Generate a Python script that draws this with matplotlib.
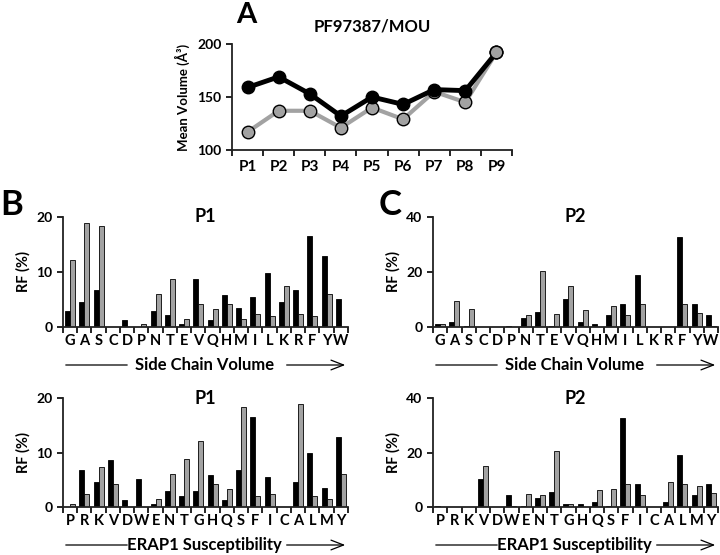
import numpy as np
import matplotlib
matplotlib.use("Agg")
import matplotlib.pyplot as plt
from matplotlib.ticker import FixedLocator

plt.rcParams['font.family'] = ['Lato', 'DejaVu Sans']
plt.rcParams['font.weight'] = 'bold'
plt.rcParams['axes.titleweight'] = 'bold'
plt.rcParams['axes.labelweight'] = 'bold'

# Panel A: mean side chain volume per pocket
positions = ['P1', 'P2', 'P3', 'P4', 'P5', 'P6', 'P7', 'P8', 'P9']
vol_black = [159, 169, 153, 132, 150, 143, 157, 156, 192]
vol_gray = [117, 137, 137, 121, 140, 129, 155, 145, 192]

# Panels B/C: relative frequency (%) per amino acid
amino = ['G', 'A', 'S', 'C', 'D', 'P', 'N', 'T', 'E', 'V',
         'Q', 'H', 'M', 'I', 'L', 'K', 'R', 'F', 'Y', 'W']
p1_black = [2.9, 4.6, 6.7, 0, 1.3, 0, 2.9, 2.1, 0.5, 8.7,
            1.3, 5.9, 3.4, 5.5, 9.9, 4.6, 6.7, 16.6, 12.9, 5.1]
p1_gray = [12.1, 18.9, 18.4, 0, 0, 0.5, 6.0, 8.8, 1.4, 4.2,
           3.3, 4.2, 1.4, 2.4, 2.0, 7.4, 2.4, 2.0, 6.0, 0]
p2_black = [1.0, 1.8, 0.5, 0, 0, 0.5, 3.2, 5.6, 0.5, 10.1,
            1.8, 1.0, 4.3, 8.4, 19.0, 0, 0, 32.7, 8.4, 4.3]
p2_gray = [1.0, 9.3, 6.6, 0, 0, 0, 4.3, 20.4, 4.8, 14.9,
           6.1, 0, 7.6, 4.3, 8.4, 0, 0, 8.4, 5.1, 0.5]

order_volume = amino
order_erap1 = ['P', 'R', 'K', 'V', 'D', 'W', 'E', 'N', 'T', 'G',
               'H', 'Q', 'S', 'F', 'I', 'C', 'A', 'L', 'M', 'Y']

GRAY = '#a2a2a2'
W, H = 720, 555

fig = plt.figure(figsize=(7.2, 5.55), dpi=100)


def px_axes(x0, x1, ytop, ybot):
    return fig.add_axes([x0 / W, 1 - ybot / H, (x1 - x0) / W, (ybot - ytop) / H])


def style_axes(ax, n):
    for s in ['top', 'right']:
        ax.spines[s].set_visible(False)
    for s in ['left', 'bottom']:
        ax.spines[s].set_linewidth(1.3)
        ax.spines[s].set_color('#222222')
    ax.set_xlim(-0.5, n - 0.5)
    ax.xaxis.set_minor_locator(FixedLocator(np.arange(n + 1) - 0.5))
    ax.tick_params(axis='x', which='major', length=0, pad=7)
    ax.tick_params(axis='x', which='minor', length=4, width=1.2, direction='out')
    ax.tick_params(axis='y', length=4, width=1.2, direction='out', labelsize=10)


def bold_ticks(ax):
    for lab in ax.get_xticklabels() + ax.get_yticklabels():
        lab.set_fontweight('bold')


# ---- Panel A
axA = px_axes(232, 512, 44, 150)
style_axes(axA, len(positions))
xa = np.arange(len(positions))
axA.plot(xa, vol_gray, '-o', color=GRAY, lw=3, ms=9, mfc=GRAY, mec='black', mew=1, zorder=2)
axA.plot(xa, vol_black, '-o', color='black', lw=3.5, ms=9, mfc='black', mec='black', zorder=3)
axA.plot(xa[-1], vol_gray[-1], 'o', ms=9, mfc=GRAY, mec='black', mew=1, zorder=4)
axA.set_ylim(100, 200)
axA.set_yticks([100, 150, 200])
axA.set_xticks(xa)
axA.set_xticklabels(positions, fontsize=11)
axA.set_ylabel('Mean Volume (Å³)', fontsize=9.5, labelpad=5)
axA.set_title('PF97387/MOU', fontsize=12, pad=9)
bold_ticks(axA)
fig.text(246 / W, 1 - 15 / H, 'A', fontsize=21, fontweight='bold', ha='center', va='center')


def bar_panel(ax, order, black, gray, ymax, title, xlabel):
    idx = [amino.index(a) for a in order]
    b = [black[i] for i in idx]
    g = [gray[i] for i in idx]
    x = np.arange(len(order))
    style_axes(ax, len(order))
    ax.bar(x - 0.175, b, width=0.35, color='black', edgecolor='black', lw=0.6)
    ax.bar(x + 0.175, g, width=0.35, color=GRAY, edgecolor='black', lw=0.6)
    ax.set_ylim(0, ymax)
    ax.set_yticks([0, ymax / 2, ymax])
    ax.set_yticklabels([f'{int(v)}' for v in (0, ymax / 2, ymax)])
    ax.set_xticks(x)
    ax.set_xticklabels(order, fontsize=10.5)
    ax.tick_params(axis='x', which='major', pad=5)
    bold_ticks(ax)
    ax.set_ylabel('RF (%)', fontsize=10.5, labelpad=4)
    ax.text(0.5, 1.0, title, transform=ax.transAxes, ha='center', va='center',
            fontsize=13, fontweight='bold')
    h = ax.get_position().height * H
    yl = -38 / h
    ax.annotate('', xy=(0.235, yl), xytext=(0.0, yl), xycoords='axes fraction',
                arrowprops=dict(arrowstyle='-', lw=0.9, color='black'), annotation_clip=False)
    ax.annotate('', xy=(1.0, yl), xytext=(0.775, yl), xycoords='axes fraction',
                arrowprops=dict(arrowstyle='->, head_length=0.9, head_width=0.35', lw=0.9, color='black'),
                annotation_clip=False)
    ax.text(0.495, yl, xlabel, transform=ax.transAxes, ha='center', va='center',
            fontsize=12, fontweight='bold')


axB1 = px_axes(63, 348, 217, 327)
bar_panel(axB1, order_volume, p1_black, p1_gray, 20, 'P1', 'Side Chain Volume')
axB2 = px_axes(63, 348, 398, 507)
bar_panel(axB2, order_erap1, p1_black, p1_gray, 20, 'P1', 'ERAP1 Susceptibility')
axC1 = px_axes(433, 718, 217, 327)
bar_panel(axC1, order_volume, p2_black, p2_gray, 40, 'P2', 'Side Chain Volume')
axC2 = px_axes(433, 718, 398, 507)
bar_panel(axC2, order_erap1, p2_black, p2_gray, 40, 'P2', 'ERAP1 Susceptibility')

fig.text(12 / W, 1 - 205 / H, 'B', fontsize=25, fontweight='bold', ha='center', va='center')
fig.text(390 / W, 1 - 205 / H, 'C', fontsize=25, fontweight='bold', ha='center', va='center')

fig.savefig('out.png', dpi=100)
